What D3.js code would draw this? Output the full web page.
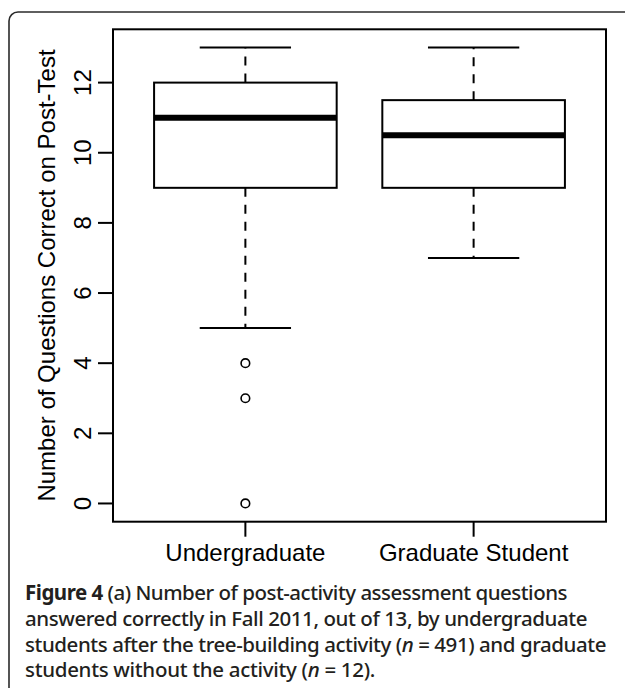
<!DOCTYPE html>
<html>
<head>
<meta charset="utf-8">
<script src="https://cdn.jsdelivr.net/npm/d3@7"></script>
<style>
  html, body { margin: 0; padding: 0; background: #fff; }
  svg { display: block; }
</style>
</head>
<body>
<svg id="chart" width="625" height="688"></svg>
<script>
// Groups and their five-number summaries (whisker low, Q1, median, Q3, whisker high)
const groups = ["Undergraduate", "Graduate Student"];
const whiskerLow = [5, 7];
const q1 = [9, 9];
const medians = [11, 10.5];
const q3 = [12, 11.5];
const whiskerHigh = [13, 13];
// Points outside the whiskers, per group
const outliers = [[4, 3, 0], []];
const yTicks = [0, 2, 4, 6, 8, 10, 12];
const yTitle = "Number of Questions Correct on Post-Test";

const svg = d3.select("#chart");

// Caption panel border (rounded corner, open to the right and bottom)
svg.append("rect")
  .attr("x", 9).attr("y", 12)
  .attr("width", 700).attr("height", 760)
  .attr("rx", 9)
  .attr("fill", "none")
  .attr("stroke", "#2b2b2b")
  .attr("stroke-width", 1.6);

const plot = { left: 113, right: 606, top: 29.3, bottom: 521.7 };

// R-style ranges: x from 0.5..n+0.5, y over the data, both padded by 4%
const n = groups.length;
const xPad = 0.04 * n;
const x = d3.scaleLinear().domain([0.5 - xPad, n + 0.5 + xPad]).range([plot.left, plot.right]);
const yPad = 0.04 * 13;
const y = d3.scaleLinear().domain([0 - yPad, 13 + yPad]).range([plot.bottom, plot.top]);

const boxW = 0.8;            // box width in x units
const capW = boxW / 2;       // whisker cap width
const lw = 2;
const font = "'Liberation Sans', Arial, Helvetica, sans-serif";
const fs = 24;

const g = svg.append("g");

groups.forEach((name, i) => {
  const c = i + 1;
  const gg = g.append("g");
  // dashed whiskers
  gg.append("line")
    .attr("x1", x(c)).attr("x2", x(c))
    .attr("y1", y(q3[i])).attr("y2", y(whiskerHigh[i]))
    .attr("stroke", "#000").attr("stroke-width", lw).attr("stroke-dasharray", "9,8");
  gg.append("line")
    .attr("x1", x(c)).attr("x2", x(c))
    .attr("y1", y(q1[i])).attr("y2", y(whiskerLow[i]))
    .attr("stroke", "#000").attr("stroke-width", lw).attr("stroke-dasharray", "9,8");
  // whisker caps
  [whiskerHigh[i], whiskerLow[i]].forEach(v => {
    gg.append("line")
      .attr("x1", x(c - capW / 2)).attr("x2", x(c + capW / 2))
      .attr("y1", y(v)).attr("y2", y(v))
      .attr("stroke", "#000").attr("stroke-width", lw);
  });
  // box
  gg.append("rect")
    .attr("x", x(c - boxW / 2))
    .attr("y", y(q3[i]))
    .attr("width", x(c + boxW / 2) - x(c - boxW / 2))
    .attr("height", y(q1[i]) - y(q3[i]))
    .attr("fill", "#fff")
    .attr("stroke", "#000").attr("stroke-width", lw);
  // median
  gg.append("line")
    .attr("x1", x(c - boxW / 2)).attr("x2", x(c + boxW / 2))
    .attr("y1", y(medians[i])).attr("y2", y(medians[i]))
    .attr("stroke", "#000").attr("stroke-width", 6);
  // outliers
  gg.selectAll("circle.out")
    .data(outliers[i])
    .join("circle")
    .attr("class", "out")
    .attr("cx", x(c)).attr("cy", d => y(d))
    .attr("r", 4.3)
    .attr("fill", "none")
    .attr("stroke", "#000").attr("stroke-width", 1.6);
});

// plot frame
svg.append("rect")
  .attr("x", plot.left).attr("y", plot.top)
  .attr("width", plot.right - plot.left).attr("height", plot.bottom - plot.top)
  .attr("fill", "none").attr("stroke", "#000").attr("stroke-width", lw);

// y axis (ticks only; frame provides the line)
const tickLen = 15;
const yAxis = svg.append("g");
yAxis.selectAll("line")
  .data(yTicks)
  .join("line")
  .attr("x1", plot.left - tickLen).attr("x2", plot.left)
  .attr("y1", d => y(d)).attr("y2", d => y(d))
  .attr("stroke", "#000").attr("stroke-width", lw);
yAxis.selectAll("text")
  .data(yTicks)
  .join("text")
  .attr("transform", d => `translate(${plot.left - 22.5},${y(d)}) rotate(-90)`)
  .attr("text-anchor", "middle")
  .attr("font-family", font)
  .attr("font-size", fs)
  .attr("fill", "#000")
  .text(d => d);

// x axis ticks and group labels
const xAxis = svg.append("g");
xAxis.selectAll("line")
  .data(groups)
  .join("line")
  .attr("x1", (d, i) => x(i + 1)).attr("x2", (d, i) => x(i + 1))
  .attr("y1", plot.bottom).attr("y2", plot.bottom + tickLen)
  .attr("stroke", "#000").attr("stroke-width", lw);
xAxis.selectAll("text")
  .data(groups)
  .join("text")
  .attr("x", (d, i) => x(i + 1))
  .attr("y", 561)
  .attr("text-anchor", "middle")
  .attr("font-family", font)
  .attr("font-size", fs)
  .attr("fill", "#000")
  .text(d => d);

// y axis title
svg.append("text")
  .attr("transform", `translate(55,${(plot.top + plot.bottom) / 2}) rotate(-90)`)
  .attr("text-anchor", "middle")
  .attr("font-family", font)
  .attr("font-size", fs)
  .attr("fill", "#000")
  .text(yTitle);

// Figure caption: each line is tightened with letter-spacing to its set width
const capFont = "'Noto Sans', 'Open Sans', sans-serif";
const captionLines = [
  { parts: [["Figure 4", "b"], [" (a) Number of post-activity assessment questions", "r"]], width: 542 },
  { parts: [["answered correctly in Fall 2011, out of 13, by undergraduate", "r"]], width: 562 },
  { parts: [["students after the tree-building activity (", "r"], ["n", "i"], [" = 491) and graduate", "r"]], width: 581 },
  { parts: [["students without the activity (", "r"], ["n", "i"], [" = 12).", "r"]], width: 350 }
];
const capBase = [600, 626, 651.5, 677];
const cap = svg.append("g").attr("fill", "#231f20");
captionLines.forEach((line, k) => {
  const t = cap.append("text")
    .attr("x", 25).attr("y", capBase[k])
    .attr("font-family", capFont)
    .attr("font-size", 20.5);
  line.parts.forEach(([s, style]) => {
    t.append("tspan")
      .attr("font-weight", style === "b" ? 700 : 500)
      .attr("font-style", style === "i" ? "italic" : "normal")
      .text(s);
  });
  const natural = t.node().getComputedTextLength();
  const chars = line.parts.reduce((a, p) => a + p[0].length, 0);
  t.attr("letter-spacing", (line.width - natural) / chars);
});
</script>
</body>
</html>
